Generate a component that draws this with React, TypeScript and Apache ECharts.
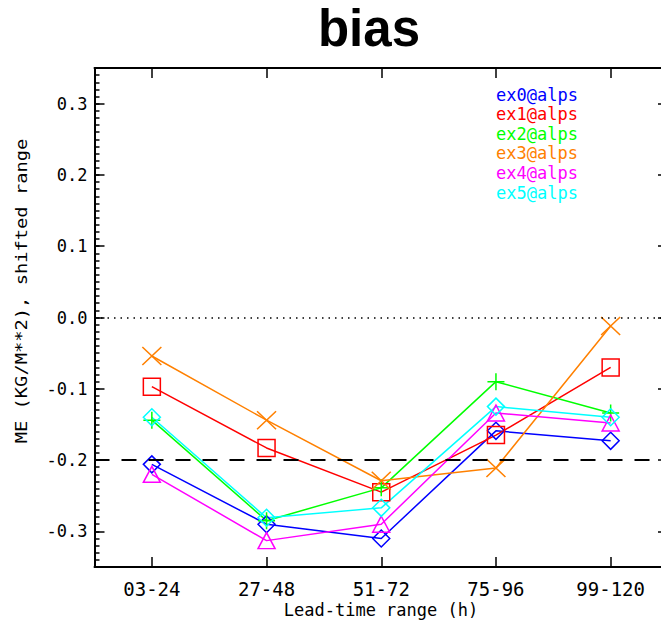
import React, { useEffect, useRef } from "react";
import * as echarts from "echarts";

const categories = ["03-24", "27-48", "51-72", "75-96", "99-120"];
const seriesNames = ["ex0@alps", "ex1@alps", "ex2@alps", "ex3@alps", "ex4@alps", "ex5@alps"];
const ex0 = [-0.206, -0.29, -0.31, -0.159, -0.173];
const ex1 = [-0.097, -0.183, -0.245, -0.165, -0.07];
const ex2 = [-0.144, -0.285, -0.239, -0.09, -0.134];
const ex3 = [-0.054, -0.144, -0.229, -0.211, -0.012];
const ex4 = [-0.22, -0.313, -0.29, -0.134, -0.148];
const ex5 = [-0.14, -0.281, -0.267, -0.125, -0.14];
const seriesValues = [ex0, ex1, ex2, ex3, ex4, ex5];
const colors = ["#0000ff", "#ff0000", "#00ff00", "#ff8000", "#ff00ff", "#00ffff"];
const refLines = [0, -0.2];

const PLUS = "path://M8,0L8,16M0,8L16,8";
const CROSS = "path://M0,0L18,18M18,0L0,18";
const symbols: any[] = ["diamond", "rect", PLUS, CROSS, "triangle", "diamond"];
const symbolSizes: any[] = [[17, 17], [17, 17], [17, 17], [19, 18], [17, 16], [17, 17]];

const MONO = "DejaVu Sans Mono";

const tickStyle = { color: "#000", width: 1.5 };
const lineStyle = { color: "#000", width: 2 };

export default function App() {
  const ref = useRef<HTMLDivElement>(null);
  useEffect(() => {
    if (!ref.current) return;
    const chart = echarts.init(ref.current, null, { renderer: "svg" });
    const series: any[] = seriesValues.map((vals, i) => ({
      name: seriesNames[i],
      type: "line",
      data: vals,
      symbol: symbols[i],
      symbolSize: symbolSizes[i],
      showAllSymbol: true,
      lineStyle: { color: colors[i], width: 1.5 },
      itemStyle: { color: "rgba(0,0,0,0)", borderColor: colors[i], borderWidth: 1.5 },
      emphasis: { disabled: true },
      z: 3,
    }));
    series[0].markLine = {
      silent: true,
      symbol: ["none", "none"],
      label: { show: false },
      animation: false,
      data: [
        { yAxis: refLines[0], lineStyle: { color: "#000", width: 1.5, type: [1.5, 5] } },
        { yAxis: refLines[1], lineStyle: { color: "#000", width: 2, type: [15, 12] } },
      ],
    };
    const legendTexts = seriesNames.map((n, i) => ({
      type: "text",
      left: 496,
      top: 86 + i * 19.6,
      style: { text: n, fill: colors[i], font: `17px "${MONO}"` },
    }));
    const xAxisBase = (pos: string, labels: boolean) => ({
      type: "category",
      data: categories,
      position: pos,
      boundaryGap: true,
      axisLine: { show: true, onZero: false, lineStyle },
      axisTick: { show: true, alignWithLabel: true, inside: true, length: 10, lineStyle: tickStyle },
      axisLabel: labels
        ? { show: true, fontFamily: MONO, fontSize: 19, color: "#000", margin: 12 }
        : { show: false },
      splitLine: { show: false },
    });
    chart.setOption({
      animation: false,
      backgroundColor: "#fff",
      grid: {
        left: 94.5,
        top: 68,
        width: 573.5,
        height: 499,
        outerBoundsMode: "none",
        containLabel: false,
      },
      xAxis: [xAxisBase("bottom", true), xAxisBase("top", false)],
      yAxis: [
        {
          type: "value",
          min: -0.35,
          max: 0.35,
          splitNumber: 7,
          position: "left",
          axisLine: { show: true, onZero: false, lineStyle },
          axisTick: { show: true, inside: true, length: 10, lineStyle: tickStyle },
          axisLabel: {
            show: true,
            showMinLabel: false,
            showMaxLabel: false,
            fontFamily: MONO,
            fontSize: 17,
            color: "#000",
            margin: 7,
            formatter: (v: number) => (Math.abs(v) < 1e-9 ? "0.0" : v.toFixed(1)),
          },
          splitLine: { show: false },
        },
        {
          type: "value",
          min: -0.35,
          max: 0.35,
          interval: 0.01,
          position: "left",
          offset: 0,
          axisLine: { show: false, onZero: false },
          axisTick: { show: true, inside: true, length: 5, lineStyle: tickStyle },
          axisLabel: { show: false },
          splitLine: { show: false },
        },
        {
          type: "value",
          min: -0.35,
          max: 0.35,
          splitNumber: 7,
          position: "right",
          axisLine: { show: true, onZero: false, lineStyle },
          axisTick: { show: true, inside: true, length: 10, lineStyle: tickStyle },
          axisLabel: { show: false },
          splitLine: { show: false },
        },
      ],
      series,
      graphic: [
        {
          type: "text",
          x: 369,
          y: 28,
          style: {
            text: "bias",
            fill: "#000",
            font: 'bold 51px "Liberation Sans"',
            textAlign: "center",
            textVerticalAlign: "middle",
          },
        },
        {
          type: "text",
          x: 22,
          y: 291,
          rotation: Math.PI / 2,
          scaleX: 1.25,
          style: {
            text: "ME (KG/M**2), shifted range",
            fill: "#000",
            font: `15px "${MONO}"`,
            textAlign: "center",
            textVerticalAlign: "middle",
          },
        },
        {
          type: "text",
          x: 381,
          y: 610,
          style: {
            text: "Lead-time range (h)",
            fill: "#000",
            font: `17px "${MONO}"`,
            textAlign: "center",
            textVerticalAlign: "middle",
          },
        },
        ...legendTexts,
      ],
    });
    return () => chart.dispose();
  }, []);
  return (
    <div
      ref={ref}
      style={{ position: "absolute", left: 0, top: 0, width: 661, height: 620 }}
    />
  );
}
